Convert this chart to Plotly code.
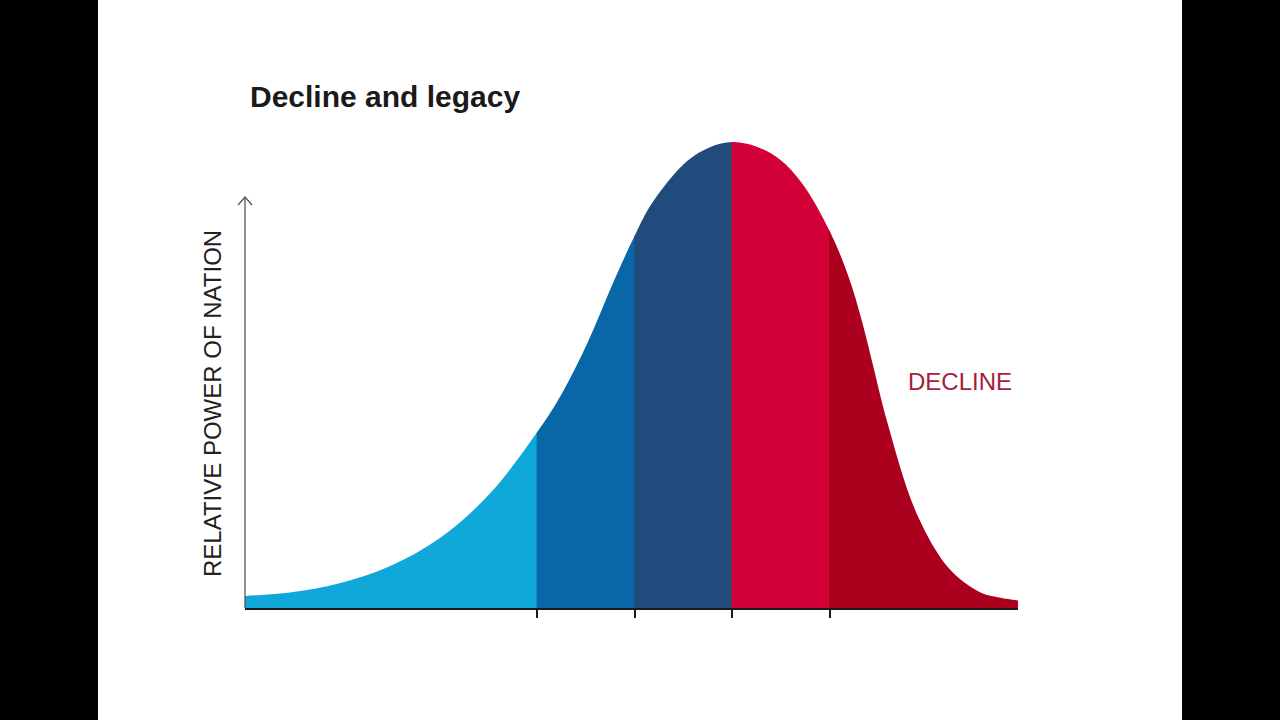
import plotly.graph_objects as go

# ---- data ----
time_x = [0.00, 0.46, 0.97, 1.49, 2.00, 2.51, 3.00, 3.25, 3.52, 3.76, 4.00,
          4.18, 4.53, 4.77, 5.00, 5.25, 5.49, 5.72, 6.00, 6.19, 6.33, 6.44, 6.59,
          6.89, 7.23, 7.54, 7.75, 7.93]
power = [2.6, 3.3, 5.3, 9.0, 15.0, 24.5, 37.8, 46.0, 57.2, 69.0, 80.0,
         87.0, 95.8, 98.9, 100.0, 99.0, 96.2, 91.0, 80.8, 71.2, 61.5, 52.3, 39.8,
         20.3, 8.3, 3.4, 2.2, 1.6]
phase_bounds = [0.0, 3.0, 4.0, 5.0, 6.0, 7.93]
phase_colors = ["#10a8d9", "#0867a6", "#214b7c", "#d10036", "#ac001f"]
tick_vals = [3, 4, 5, 6]
axis_top = 88.2  # top of the vertical axis arrow, in power units

title_text = "Decline and legacy"
y_label = "RELATIVE POWER OF NATION"
decline_label = "DECLINE"
decline_pos = (7.33, 48.7)

# ---- layout geometry (pixels) ----
W, H = 1280, 720
L, R, T, B = 245, 1280 - 1018, 142, 720 - 608
pw, ph = W - L - R, H - T - B
x_max = phase_bounds[-1]
overlap = 0.8 * x_max / pw  # tiny overlap between bands (data units) to hide seams


def px2paper_x(px):
    return (px - L) / pw


def px2paper_y(py):
    return (H - B - py) / ph


fig = go.Figure()

# invisible trace keeps the main axis (baseline + ticks) alive
fig.add_trace(go.Scatter(x=[0, x_max], y=[0, 0], mode="lines",
                         line=dict(width=0), hoverinfo="skip", showlegend=False,
                         xaxis="x", yaxis="y"))

layout_axes = {}
for i, col in enumerate(phase_colors):
    lo, hi = phase_bounds[i], phase_bounds[i + 1]
    if i > 0:
        lo -= overlap
    ax_name = "x%d" % (i + 2)
    fig.add_trace(go.Scatter(
        x=time_x, y=power, mode="lines", fill="tozeroy",
        line=dict(shape="spline", smoothing=1.0, width=0, color=col),
        fillcolor=col, hoverinfo="skip", showlegend=False,
        xaxis=ax_name, yaxis="y",
    ))
    layout_axes["xaxis%d" % (i + 2)] = dict(
        domain=[lo / x_max, hi / x_max], range=[lo, hi], anchor="y",
        visible=False, fixedrange=True)

shapes = [
    # black side bars
    dict(type="rect", xref="paper", yref="paper",
         x0=px2paper_x(-5), x1=px2paper_x(98), y0=px2paper_y(730), y1=px2paper_y(-10),
         fillcolor="black", line=dict(width=0), layer="above"),
    dict(type="rect", xref="paper", yref="paper",
         x0=px2paper_x(1182), x1=px2paper_x(1290), y0=px2paper_y(730), y1=px2paper_y(-10),
         fillcolor="black", line=dict(width=0), layer="above"),
    # vertical axis
    dict(type="line", xref="paper", yref="paper", x0=0, x1=0, y0=0, y1=axis_top / 100.0,
         line=dict(color="#555555", width=1.3), layer="above"),
    # arrow head
    dict(type="path", xref="paper", yref="paper", xsizemode="pixel", ysizemode="pixel",
         xanchor=0, yanchor=axis_top / 100.0, path="M-7,-8 L0,0 L7,-8",
         line=dict(color="#555555", width=1.3), layer="above"),
]

annotations = [
    dict(text=title_text, xref="paper", yref="paper",
         x=px2paper_x(248), y=px2paper_y(97), xanchor="left", yanchor="middle",
         showarrow=False,
         font=dict(family="Liberation Sans, Arial", size=30, color="#1a1a1a", weight="bold")),
    dict(text=y_label, xref="paper", yref="paper",
         x=px2paper_x(212), y=px2paper_y(404), xanchor="center", yanchor="middle",
         textangle=-90, showarrow=False,
         font=dict(family="Liberation Sans, Arial", size=24, color="#222222")),
    dict(text=decline_label, xref="x", yref="y",
         x=decline_pos[0], y=decline_pos[1],
         xanchor="center", yanchor="middle", showarrow=False,
         font=dict(family="Liberation Sans, Arial", size=24, color="#a91d3a")),
]

fig.update_layout(
    width=W, height=H,
    margin=dict(l=L, r=R, t=T, b=B, pad=0),
    paper_bgcolor="white", plot_bgcolor="rgba(0,0,0,0)",
    showlegend=False,
    shapes=shapes, annotations=annotations,
    xaxis=dict(range=[0, x_max], domain=[0, 1], showgrid=False, zeroline=False,
               showline=True, linecolor="#1a1a1a", linewidth=2,
               tickmode="array", tickvals=tick_vals, ticks="outside",
               ticklen=8, tickwidth=2, tickcolor="#1a1a1a",
               showticklabels=False, fixedrange=True),
    yaxis=dict(range=[0, 100], showgrid=False, zeroline=False,
               showline=False, showticklabels=False, ticks="", fixedrange=True),
    **layout_axes,
)

fig.write_html("out.html", config=dict(displayModeBar=False),
               post_script="document.body.style.margin='0';document.body.style.overflow='hidden';")
